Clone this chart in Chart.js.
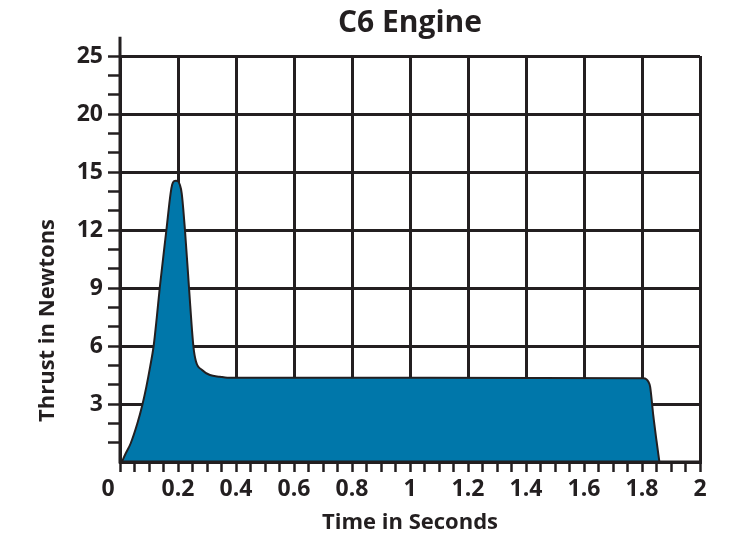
<!DOCTYPE html>
<html>
<head>
<meta charset="utf-8">
<script src="https://cdn.jsdelivr.net/npm/chart.js@4.4.1/dist/chart.umd.min.js"></script>
<style>
  html, body { margin: 0; padding: 0; background: #ffffff; }
  #wrap { width: 750px; height: 544px; position: relative; }
</style>
</head>
<body>
<div id="wrap"><canvas id="engine-chart"></canvas></div>
<script>
  // thrust curve (time in s, thrust in grid units: 3 per square)
  const timeSec = [0.006, 0.02, 0.037, 0.06, 0.077, 0.091, 0.104, 0.116, 0.127, 0.137, 0.16, 0.1745, 0.18, 0.186, 0.193, 0.2, 0.206, 0.2128,
    0.224, 0.238, 0.253, 0.262, 0.283, 0.31, 0.345, 0.37, 1.0, 1.805, 1.815, 1.822, 1.828, 1.839, 1.85, 1.86];
  const thrustN = [0, 0.45, 0.97, 2.0, 2.95, 3.9, 4.93, 6.0, 7.5, 9.0, 12.0, 13.9, 14.35, 14.52, 14.55, 14.52, 14.35, 13.9,
    12.0, 9.0, 6.0, 5.2, 4.76, 4.5, 4.41, 4.36, 4.36, 4.33, 4.28, 4.15, 3.9, 2.4, 1.1, 0];

  // tick labels as printed on the chart (y grid every 3 units, top two read 20 and 25)
  const xTickLabels = ['0    ', '0.2', '0.4', '0.6', '0.8', '1', '1.2', '1.4', '1.6', '1.8', '2'];
  const yTickLabels = ['', '3', '6', '9', '12', '15', '20', '25'];

  const ink = '#231f20';
  const fillBlue = '#0077aa';
  const family = "'Open Sans', 'DejaVu Sans', sans-serif";

  const isMajorX = (v) => Math.round(v * 20) % 4 === 0;
  const isMajorY = (v) => Math.round(v) % 3 === 0 && v > 0;

  // axis lines redrawn over the fill, plus the short stub of the y axis above the top grid line
  const axisFrame = {
    id: 'axisFrame',
    afterDatasetsDraw(chart) {
      const { ctx, chartArea, scales } = chart;
      const stub = scales.y.getPixelForValue(0) - scales.y.getPixelForValue(1);
      ctx.save();
      ctx.strokeStyle = ink;
      ctx.lineWidth = 3;
      ctx.beginPath();
      ctx.moveTo(chartArea.left, chartArea.bottom);
      ctx.lineTo(chartArea.left, chartArea.top - stub);
      ctx.moveTo(chartArea.left - 1.5, chartArea.bottom);
      ctx.lineTo(chartArea.right + 1.5, chartArea.bottom);
      ctx.stroke();
      ctx.restore();
    },
  };

  new Chart(document.getElementById('engine-chart'), {
    type: 'line',
    data: {
      datasets: [
        {
          data: timeSec.map((t, i) => ({ x: t, y: thrustN[i] })),
          borderColor: ink,
          borderWidth: 2,
          backgroundColor: fillBlue,
          fill: 'origin',
          pointRadius: 0,
          cubicInterpolationMode: 'monotone',
        },
      ],
    },
    options: {
      responsive: true,
      maintainAspectRatio: false,
      animation: false,
      layout: { padding: { left: 0, right: 50, top: 0, bottom: 0 } },
      plugins: {
        legend: { display: false },
        tooltip: { enabled: false },
        title: {
          display: true,
          text: 'C6 Engine',
          color: ink,
          fullSize: false,
          font: { family, size: 30, weight: 'bold', lineHeight: 1.2 },
          padding: { top: 5, bottom: 15 },
        },
      },
      scales: {
        x: {
          type: 'linear',
          min: 0,
          max: 2,
          afterFit(scale) { scale.height = 82; },
          border: { color: ink, width: 3 },
          grid: {
            color: (c) => (isMajorX(c.tick.value) ? ink : 'rgba(0,0,0,0)'),
            lineWidth: 3,
            tickColor: ink,
            tickWidth: 2.5,
            tickLength: 10,
          },
          ticks: {
            stepSize: 0.05,
            autoSkip: false,
            maxRotation: 0,
            padding: 4,
            color: ink,
            font: { family, size: 23, weight: 'bold' },
            callback: (v) => (isMajorX(v) ? xTickLabels[Math.round(v * 5)] : ''),
          },
          title: {
            display: true,
            text: 'Time in Seconds',
            color: ink,
            font: { family, size: 22, weight: 'bold', lineHeight: 1.2 },
            padding: { top: 0, bottom: 8 },
          },
        },
        y: {
          min: 0,
          max: 21,
          afterFit(scale) { scale.width = 120; },
          border: { color: ink, width: 3 },
          grid: {
            color: (c) => (isMajorY(c.tick.value) ? ink : 'rgba(0,0,0,0)'),
            lineWidth: 3,
            tickColor: (c) => (c.tick.value > 0 ? ink : 'rgba(0,0,0,0)'),
            tickWidth: 2.5,
            tickLength: 12,
          },
          ticks: {
            stepSize: 1,
            autoSkip: false,
            padding: 5,
            color: ink,
            font: { family, size: 23, weight: 'bold' },
            callback: (v) => (isMajorY(v) ? yTickLabels[Math.round(v / 3)] : ''),
          },
          title: {
            display: true,
            align: 'start',
            text: '       Thrust in Newtons',
            color: ink,
            font: { family, size: 22, weight: 'bold', lineHeight: 1.2 },
            padding: { top: 35, bottom: 0 },
          },
        },
      },
    },
    plugins: [axisFrame],
  });
</script>
</body>
</html>
